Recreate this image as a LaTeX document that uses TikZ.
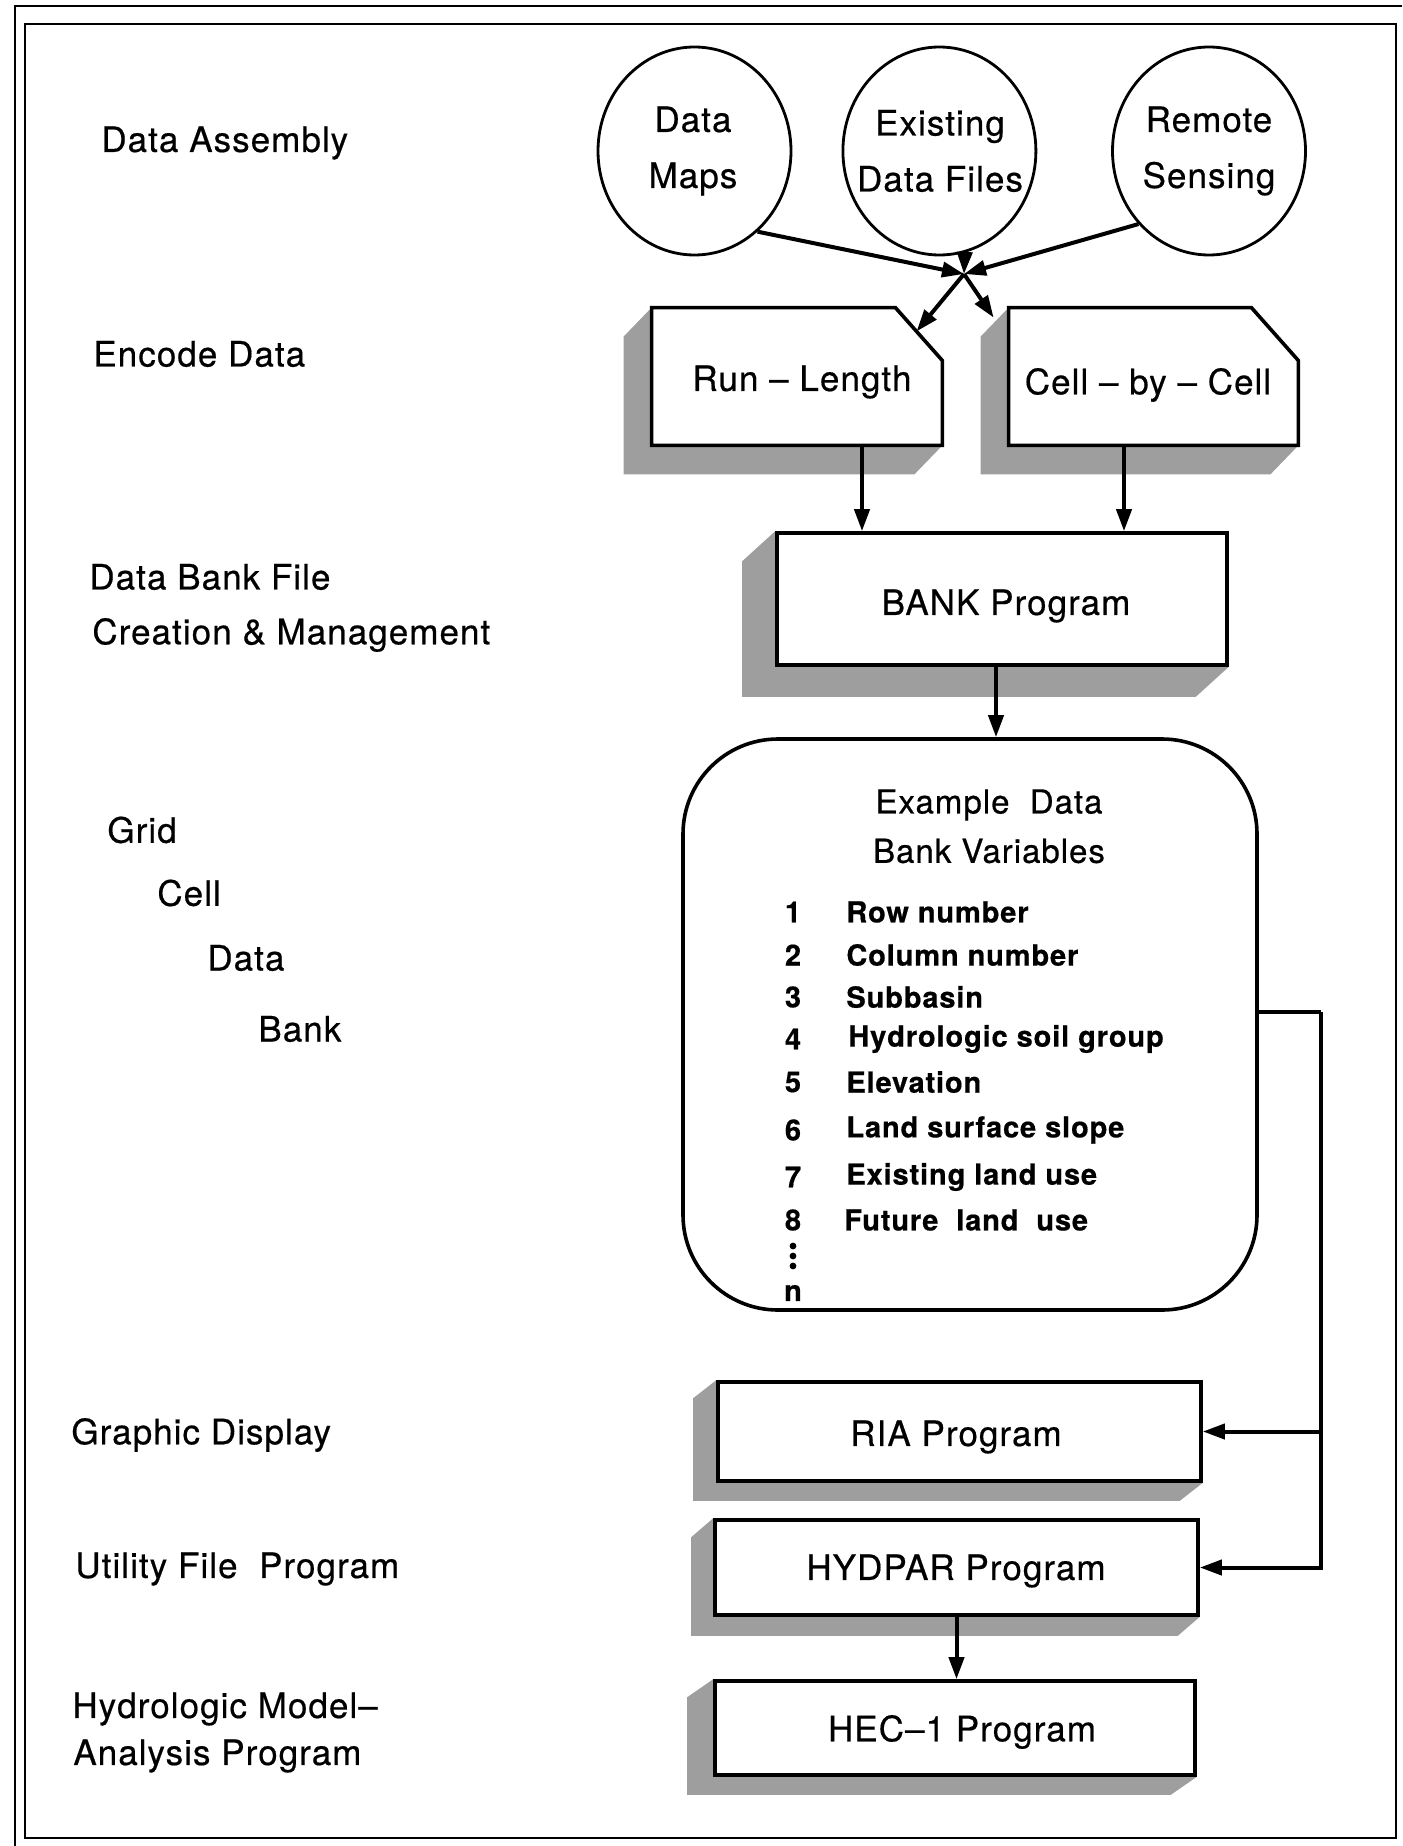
\documentclass[tikz,border=0pt]{standalone}
\usepackage{fontspec}
\setmainfont[LetterSpace=3,FakeBold=0.5]{TeX Gyre Heros}
\usetikzlibrary{shapes.geometric,arrows.meta,calc}
\pgfdeclarelayer{shd}
\pgfdeclarelayer{pap}
\pgfsetlayers{shd,pap,main}
\tikzset{
 lbl/.style={anchor=west, inner sep=0pt, font=\fontsize{17.5}{21}\selectfont},
 circ/.style={ellipse, draw, line width=1.4pt, minimum width=96.5pt, minimum height=104pt, inner sep=0pt},
 ctxt/.style={inner sep=0pt, align=center, font=\fontsize{17.5}{28}\selectfont},
 prog/.style={rectangle, draw, line width=1.8pt, fill=white},
 ptxt/.style={inner sep=0pt, font=\fontsize{17.5}{21}\selectfont},
 cardbox/.style={rectangle, inner sep=0pt},
 cardline/.style={line width=1.8pt, fill=white},
 arr/.style={line width=2pt, -{Triangle[length=11pt,width=7.5pt]}},
 conn/.style={line width=2pt},
 frameline/.style={line width=1.4pt},
 shadefill/.style={fill=black!38},
 item/.style={anchor=west, inner sep=0pt, font=\bfseries\fontsize{14.5}{18}\selectfont},
 num/.style={inner sep=0pt, font=\bfseries\fontsize{14.5}{18}\selectfont},
 head/.style={inner sep=0pt, font=\fontsize{16.5}{20}\selectfont},
}
\newcommand\dropshade[3]{%
 \begin{pgfonlayer}{shd}
 \fill[shadefill] (#1.north west) -- ([shift={(#2,#3)}]#1.north west) -- ([shift={(#2,#3)}]#1.south west) -- ([shift={(#2,#3)}]#1.south east) -- (#1.south east) -- cycle;
 \end{pgfonlayer}}
\begin{document}
\begin{tikzpicture}[x=0.5pt,y=-0.5pt]
\useasboundingbox (0,0) rectangle (1402,1846);
% frame
\draw[frameline] (15,1846) -- (15,6) -- (1402,6);
\draw[frameline] (25,24) rectangle (1396,1838);

% left labels
\node[lbl] (l1) at (101,143) {Data Assembly};
\node[lbl] (l2) at (93,354) {Encode Data};
\node[lbl] (l3) at (89,577) {Data Bank File};
\node[lbl] (l4) at (92,635) {Creation \& Management};
\node[lbl] (l5) at (107,830) {Grid};
\node[lbl] (l6) at (157,893) {Cell};
\node[lbl] (l7) at (207,958) {Data};
\node[lbl] (l8) at (258,1029) {Bank};
\node[lbl] (l9) at (71,1435) {Graphic Display};
\node[lbl] (l10) at (75,1569) {Utility File\ \ Program};
\node[lbl] (l11) at (72,1709) {Hydrologic Model–};
\node[lbl] (l12) at (73,1756) {Analysis Program};

% circles
\node[circ] (dm) at (694.5,151) {};
\node[ctxt] (dmt) at (693,151) {Data\\Maps};
\node[circ] (edf) at (939.4,151) {};
\node[ctxt] (edft) at (940,151) {Existing\\Data Files};
\node[circ] (rs) at (1209,151) {};
\node[ctxt] (rst) at (1209,151) {Remote\\Sensing};

% cards
\node[cardbox, minimum width=145pt, minimum height=68.5pt] (rl) at (797,376.5) {};
\node[ptxt] (rlt) at (802,382) {Run – Length};
\begin{pgfonlayer}{pap}
\draw[cardline] (rl.south west) -- (rl.north west) -- ([xshift=-23.5pt]rl.north east) coordinate (rlc1) -- ([yshift=-26.5pt]rl.north east) coordinate (rlc2) -- (rl.south east) -- cycle;
\end{pgfonlayer}
\dropshade{rl}{-28}{29}

\node[cardbox, minimum width=144.5pt, minimum height=68.5pt] (cbc) at (1153.5,376.5) {};
\node[ptxt] (cbct) at (1148,385) {Cell – by – Cell};
\begin{pgfonlayer}{pap}
\draw[cardline] (cbc.south west) -- (cbc.north west) -- ([xshift=-23.5pt]cbc.north east) -- ([yshift=-26.5pt]cbc.north east) -- (cbc.south east) -- cycle;
\end{pgfonlayer}
\dropshade{cbc}{-28}{29}

% convergence
\coordinate (conv) at (964,274);
\coordinate (cbin) at ([shift={(-15,10)}]cbc.north west);
\draw[arr] (dm.-52) -- (conv);
\draw[arr] (edf.-76) -- (conv);
\draw[arr] (rs.-134) -- (conv);
\draw[arr] (conv) -- ($(rlc1)!0.45!(rlc2)$);
\draw[arr] (conv) -- (cbin);

% bank
\node[prog, minimum width=225pt, minimum height=66pt] (bank) at (1002,599) {};
\node[ptxt] (bankt) at (1006,606) {BANK Program};
\dropshade{bank}{-33}{30}
\draw[arr] ([xshift=32.5pt]rl.south) -- ([xshift=32.5pt]rl.south |- bank.north);
\draw[arr] ([xshift=-14.75pt]cbc.south) -- ([xshift=-14.75pt]cbc.south |- bank.north);

% example data bank
\node[draw, line width=1.8pt, rounded corners=47.5pt, minimum width=287pt, minimum height=285.5pt] (eb) at (970,1024.5) {};
\draw[arr] ([xshift=-3pt]bank.south) -- ([xshift=-3pt]bank.south |- eb.north);
\node[head] (ex1) at (989,805) {Example\ \ Data};
\node[head] (ex2) at (989,851) {Bank Variables};
\node[num] (n1) at (793,912) {1};
\node[num] (n2) at (793,955) {2};
\node[num] (n3) at (793,997) {3};
\node[num] (n4) at (793,1039) {4};
\node[num] (n5) at (793,1082) {5};
\node[num] (n6) at (793,1130) {6};
\node[num] (n7) at (793,1177) {7};
\node[num] (n8) at (793,1220) {8};
\node[num] (nn) at (793,1293) {n};
\fill (793,1246) circle (1.7pt);
\fill (793,1256) circle (1.7pt);
\fill (793,1266) circle (1.7pt);
\node[item] (v1) at (846,912) {Row number};
\node[item] (v2) at (846,955) {Column number};
\node[item] (v3) at (846,997) {Subbasin};
\node[item] (v4) at (848,1039) {Hydrologic soil group};
\node[item] (v5) at (846,1082) {Elevation};
\node[item] (v6) at (846,1130) {Land surface slope};
\node[item] (v7) at (846,1177) {Existing land use};
\node[item] (v8) at (844,1220) {Future\ \ land\ \ use};

% programs
\node[prog, minimum width=241.5pt, minimum height=49.5pt] (ria) at (959.5,1431.5) {};
\node[ptxt] (riat) at (956,1437) {RIA Program};
\dropshade{ria}{-23}{18}
\node[prog, minimum width=241.5pt, minimum height=47.5pt] (hyd) at (956.5,1567.5) {};
\node[ptxt] (hydt) at (956,1571) {HYDPAR Program};
\dropshade{hyd}{-22}{19}
\node[prog, minimum width=240pt, minimum height=47pt] (hec) at (955,1728) {};
\node[ptxt] (hect) at (962,1732) {HEC–1 Program};
\dropshade{hec}{-26}{18}

\coordinate (jx) at (1321,1012);
\draw[conn] (eb.east |- jx) -- (jx);
\draw[arr] (jx) |- (hyd.east);
\draw[arr] (jx |- ria.east) -- (ria.east);
\draw[arr] (hyd.south) -- (hyd.south |- hec.north);
\end{tikzpicture}
\end{document}
